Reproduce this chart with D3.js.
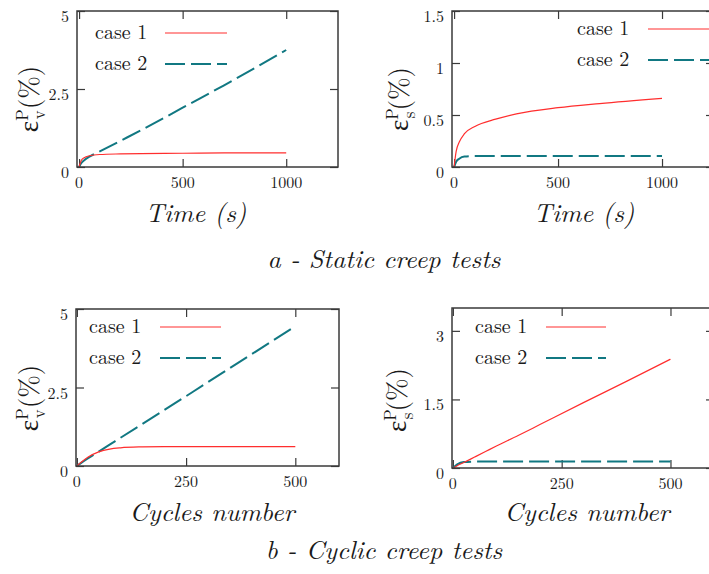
<!DOCTYPE html>
<html>
<head>
<meta charset="utf-8">
<script src="https://cdn.jsdelivr.net/npm/d3@7"></script>
<style>
  html, body { margin: 0; padding: 0; background: #fff; }
  svg { display: block; }
</style>
</head>
<body>
<svg id="chart" width="709" height="574"></svg>
<script>
// ---------------- data ----------------
const legendLabels = ["case 1", "case 2"];

// a - static creep tests
const staticTime = [0, 10, 25, 50, 100, 200, 300, 500, 700, 1000];
const staticEvCase1 = [0, 0.20, 0.30, 0.36, 0.40, 0.42, 0.43, 0.44, 0.45, 0.45];
const staticEvCase2 = [0, 0.12, 0.22, 0.33, 0.50, 0.84, 1.18, 1.90, 2.62, 3.75];
const staticEsCase1 = [0, 0.15, 0.24, 0.32, 0.39, 0.46, 0.51, 0.57, 0.61, 0.66];
const staticEsCase2 = [0, 0.05, 0.08, 0.10, 0.105, 0.105, 0.105, 0.105, 0.105, 0.105];

// b - cyclic creep tests
const cycles = [0, 10, 25, 50, 75, 100, 150, 200, 300, 400, 500];
const cyclicEvCase1 = [0, 0.12, 0.28, 0.45, 0.54, 0.58, 0.61, 0.62, 0.62, 0.62, 0.62];
const cyclicEvCase2 = [0, 0.10, 0.24, 0.46, 0.68, 0.90, 1.34, 1.78, 2.67, 3.56, 4.45];
const cyclicEsCase1 = [0, 0.05, 0.12, 0.24, 0.36, 0.48, 0.71, 0.95, 1.43, 1.90, 2.38];
const cyclicEsCase2 = [0, 0.08, 0.13, 0.14, 0.14, 0.14, 0.14, 0.14, 0.14, 0.14, 0.14];

const staticXTicks = [0, 500, 1000];
const cyclicXTicks = [0, 250, 500];
const evYTicks = [0, 2.5, 5];
const staticEsYTicks = [0, 0.5, 1, 1.5];
const cyclicEsYTicks = [0, 1.5, 3];

const captions = ["a - Static creep tests", "b - Cyclic creep tests"];

// ---------------- layout ----------------
const RED = "#ff2e2e", TEAL = "#117882", FRAME = "#3a3a3a";
const FONT = '"Latin Modern Roman", "Liberation Serif", serif';
const svg = d3.select("#chart");

const panels = [
  { x: staticTime, s1: staticEvCase1, s2: staticEvCase2, xd: [-10, 1250], yd: [0, 5],
    box: [77, 338, 11, 167], xt: staticXTicks, yt: evYTicks, sub: "v", xlabel: "Time (s)",
    ylabX: 30, ylabY: 99, xlabX: 196, xlabY: 222, leg: [95, 33, 165, 227] },
  { x: staticTime, s1: staticEsCase1, s2: staticEsCase2, xd: [-10, 1250], yd: [0, 1.5],
    box: [452, 714, 11, 167], xt: staticXTicks, yt: staticEsYTicks, sub: "s", xlabel: "Time (s)",
    ylabX: 400, ylabY: 99, xlabX: 584, xlabY: 222, leg: [577, 29, 648, 720] },
  { x: cycles, s1: cyclicEvCase1, s2: cyclicEvCase2, xd: [-2, 600], yd: [0, 5],
    box: [76, 339, 309, 466], xt: cyclicXTicks, yt: evYTicks, sub: "v", xlabel: "Cycles number",
    ylabX: 30, ylabY: 398, xlabX: 212, xlabY: 521, leg: [89, 327, 160, 221] },
  { x: cycles, s1: cyclicEsCase1, s2: cyclicEsCase2, xd: [-2, 600], yd: [0, 3.5],
    box: [452, 714, 308, 468], xt: cyclicXTicks, yt: cyclicEsYTicks, sub: "s", xlabel: "Cycles number",
    ylabX: 398, ylabY: 400, xlabX: 587, xlabY: 521, leg: [475, 327, 546, 606] }
];

const fmt = v => String(v);
function txt(sel) { return sel.append("text").style("font-family", FONT).attr("fill", "#1a1a1a"); }

panels.forEach((p, i) => {
  const [l, r, t, b] = p.box;
  const x = d3.scaleLinear().domain(p.xd).range([l, r]);
  const y = d3.scaleLinear().domain(p.yd).range([b, t]);
  const g = svg.append("g");
  const clipId = "clip" + i;
  g.append("clipPath").attr("id", clipId).append("rect")
    .attr("x", l).attr("y", t).attr("width", r - l).attr("height", b - t);

  // mirrored inner ticks via d3 axes
  const tickLen = 8;
  const axB = d3.axisBottom(x).tickValues(p.xt).tickSize(-tickLen).tickFormat("");
  const axT = d3.axisTop(x).tickValues(p.xt).tickSize(-tickLen).tickFormat("");
  const axL = d3.axisLeft(y).tickValues(p.yt).tickSize(-tickLen).tickFormat("");
  const axR = d3.axisRight(y).tickValues(p.yt).tickSize(-tickLen).tickFormat("");
  [[axB, `translate(0,${b})`], [axT, `translate(0,${t})`],
   [axL, `translate(${l},0)`], [axR, `translate(${r},0)`]].forEach(([ax, tr]) => {
    const a = g.append("g").attr("transform", tr).call(ax);
    a.select(".domain").remove();
    a.selectAll("line").attr("stroke", FRAME).attr("stroke-width", 1.2);
  });

  // tick labels
  p.xt.forEach(v => {
    txt(g).attr("x", x(v)).attr("y", b + 21).attr("text-anchor", "middle")
      .attr("font-size", 16).text(fmt(v));
  });
  p.yt.forEach(v => {
    txt(g).attr("x", l - 8).attr("y", y(v) + 11).attr("text-anchor", "end")
      .attr("font-size", 16).text(fmt(v));
  });

  // lines
  const line = d3.line().x((d, k) => x(p.x[k])).y(d => y(d)).curve(d3.curveMonotoneX);
  g.append("path").datum(p.s2).attr("d", line).attr("fill", "none")
    .attr("stroke", TEAL).attr("stroke-width", 2).attr("stroke-dasharray", "20,6")
    .attr("clip-path", `url(#${clipId})`);
  g.append("path").datum(p.s1).attr("d", line).attr("fill", "none")
    .attr("stroke", RED).attr("stroke-width", 1.2)
    .attr("clip-path", `url(#${clipId})`);

  // frame
  g.append("rect").attr("x", l).attr("y", t).attr("width", r - l).attr("height", b - t)
    .attr("fill", "none").attr("stroke", FRAME).attr("stroke-width", 1.5);

  // legend
  const [tx, ly, lx0, lx1] = p.leg;
  legendLabels.forEach((lab, k) => {
    const yy = ly + k * 31;
    txt(g).attr("x", tx).attr("y", yy + 6).attr("font-size", 20).text(lab);
    g.append("line").attr("x1", lx0).attr("x2", lx1).attr("y1", yy).attr("y2", yy)
      .attr("stroke", k === 0 ? RED : TEAL).attr("stroke-width", k === 0 ? 1.2 : 2)
      .attr("stroke-dasharray", k === 0 ? null : "20,6");
  });

  // y label (centered on its measured extent)
  const ylg = g.append("g").attr("transform", `translate(${p.ylabX + 8},${p.ylabY}) rotate(-90)`);
  const yl = txt(ylg).attr("x", 0).attr("y", 0).attr("font-size", 27);
  yl.append("tspan").text("ε");
  yl.append("tspan").attr("font-size", 17).attr("dy", -10).text("P");
  yl.append("tspan").attr("font-size", 17).attr("dx", -10).attr("dy", 17).text(p.sub);
  yl.append("tspan").attr("dy", -7).attr("dx", 1).text("(%)");
  const bb = yl.node().getBBox();
  yl.attr("x", -(bb.x + bb.width / 2));

  // x label
  txt(g).attr("x", p.xlabX).attr("y", p.xlabY).attr("text-anchor", "middle")
    .attr("font-size", 26).attr("font-style", "italic").text(p.xlabel);
});

// captions
txt(svg).attr("x", 384).attr("y", 268).attr("text-anchor", "middle")
  .attr("font-size", 26).attr("font-style", "italic").text(captions[0]);
txt(svg).attr("x", 384).attr("y", 559).attr("text-anchor", "middle")
  .attr("font-size", 26).attr("font-style", "italic").text(captions[1]);
</script>
</body>
</html>
